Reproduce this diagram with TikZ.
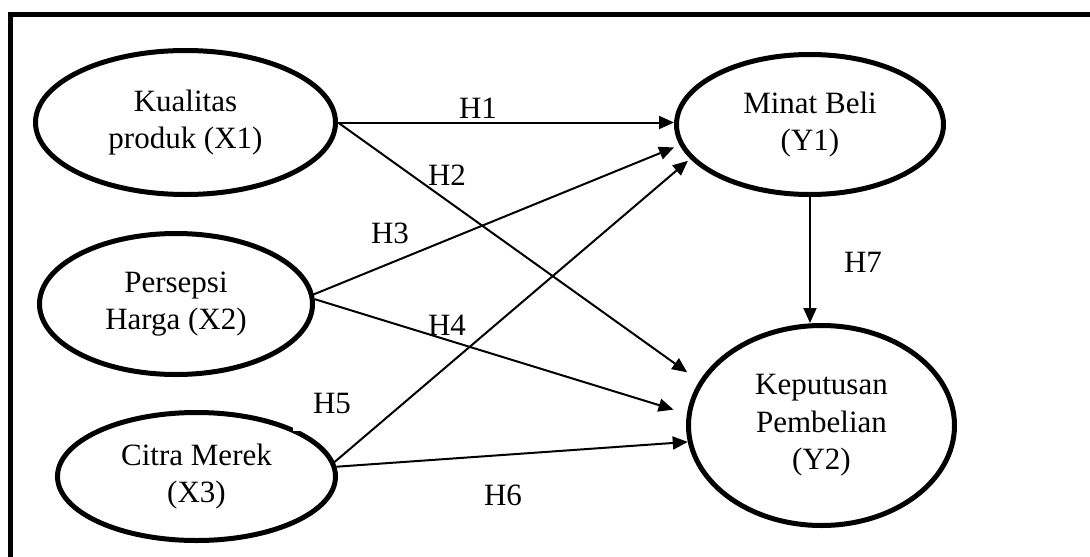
\documentclass[tikz,border=0pt]{standalone}
\usepackage{fontspec}
\setmainfont{Liberation Serif}
\usetikzlibrary{shapes.geometric,arrows.meta}
\begin{document}
\begin{tikzpicture}[x=1pt,y=-1pt,
  var/.style={ellipse,draw,line width=5pt,inner sep=0pt,align=center,font=\fontsize{31}{37.5}\selectfont},
  hyp/.style={font=\fontsize{31}{37.5}\selectfont,inner sep=0pt},
  link/.style={line width=2pt,-{Triangle[length=15pt,width=13pt]}},
  framebar/.style={line width=5pt}]
\useasboundingbox (0,0) rectangle (1090,557);
\coordinate (ftr) at (1092,14.5);
\coordinate (ftl) at (10.5,14.5);
\coordinate (fbl) at (10.5,560);
\draw[framebar] (ftr) -- (ftl) -- (fbl);

\node[var,minimum width=300pt,minimum height=144pt] (x1) at (185.5,122.5) {Kualitas\\produk (X1)};
\node[var,minimum width=273pt,minimum height=141pt] (x2) at (176,304) {Persepsi\\Harga (X2)};
\node[var,minimum width=278pt,minimum height=128pt] (x3) at (196.5,476.5) {Citra Merek\\(X3)};
\node[var,minimum width=267pt,minimum height=140pt] (y1) at (810,124.5) {Minat Beli\\(Y1)};
\node[var,minimum width=266pt,minimum height=200pt] (y2) at (821.5,425.5) {Keputusan\\Pembelian\\(Y2)};

\node[hyp,fill=white,minimum width=78pt,minimum height=56pt] (h5) at (332,403) {H5};

\draw[link] (x1.east) -- (x1.east -| y1.west);
\draw[link,shorten >=15pt] (x1.east) -- (y2.160);
\draw[link,shorten >=6pt] (x2.4) -- (y1.189);
\draw[link,shorten >=14pt] (x2.2) -- (y2.175);
\draw[link,shorten >=3pt] (x3.6) -- (y1.196);
\draw[link] (x3.4) -- (y2.187);
\draw[link] (y1.south) -- (y1.south |- y2.north);

\node[hyp] (h1) at (478,108) {H1};
\node[hyp] (h2) at (447,175) {H2};
\node[hyp] (h3) at (390,233) {H3};
\node[hyp] (h4) at (447,325) {H4};
\node[hyp] (h6) at (503,495) {H6};
\node[hyp] (h7) at (863,262) {H7};
\end{tikzpicture}
\end{document}
